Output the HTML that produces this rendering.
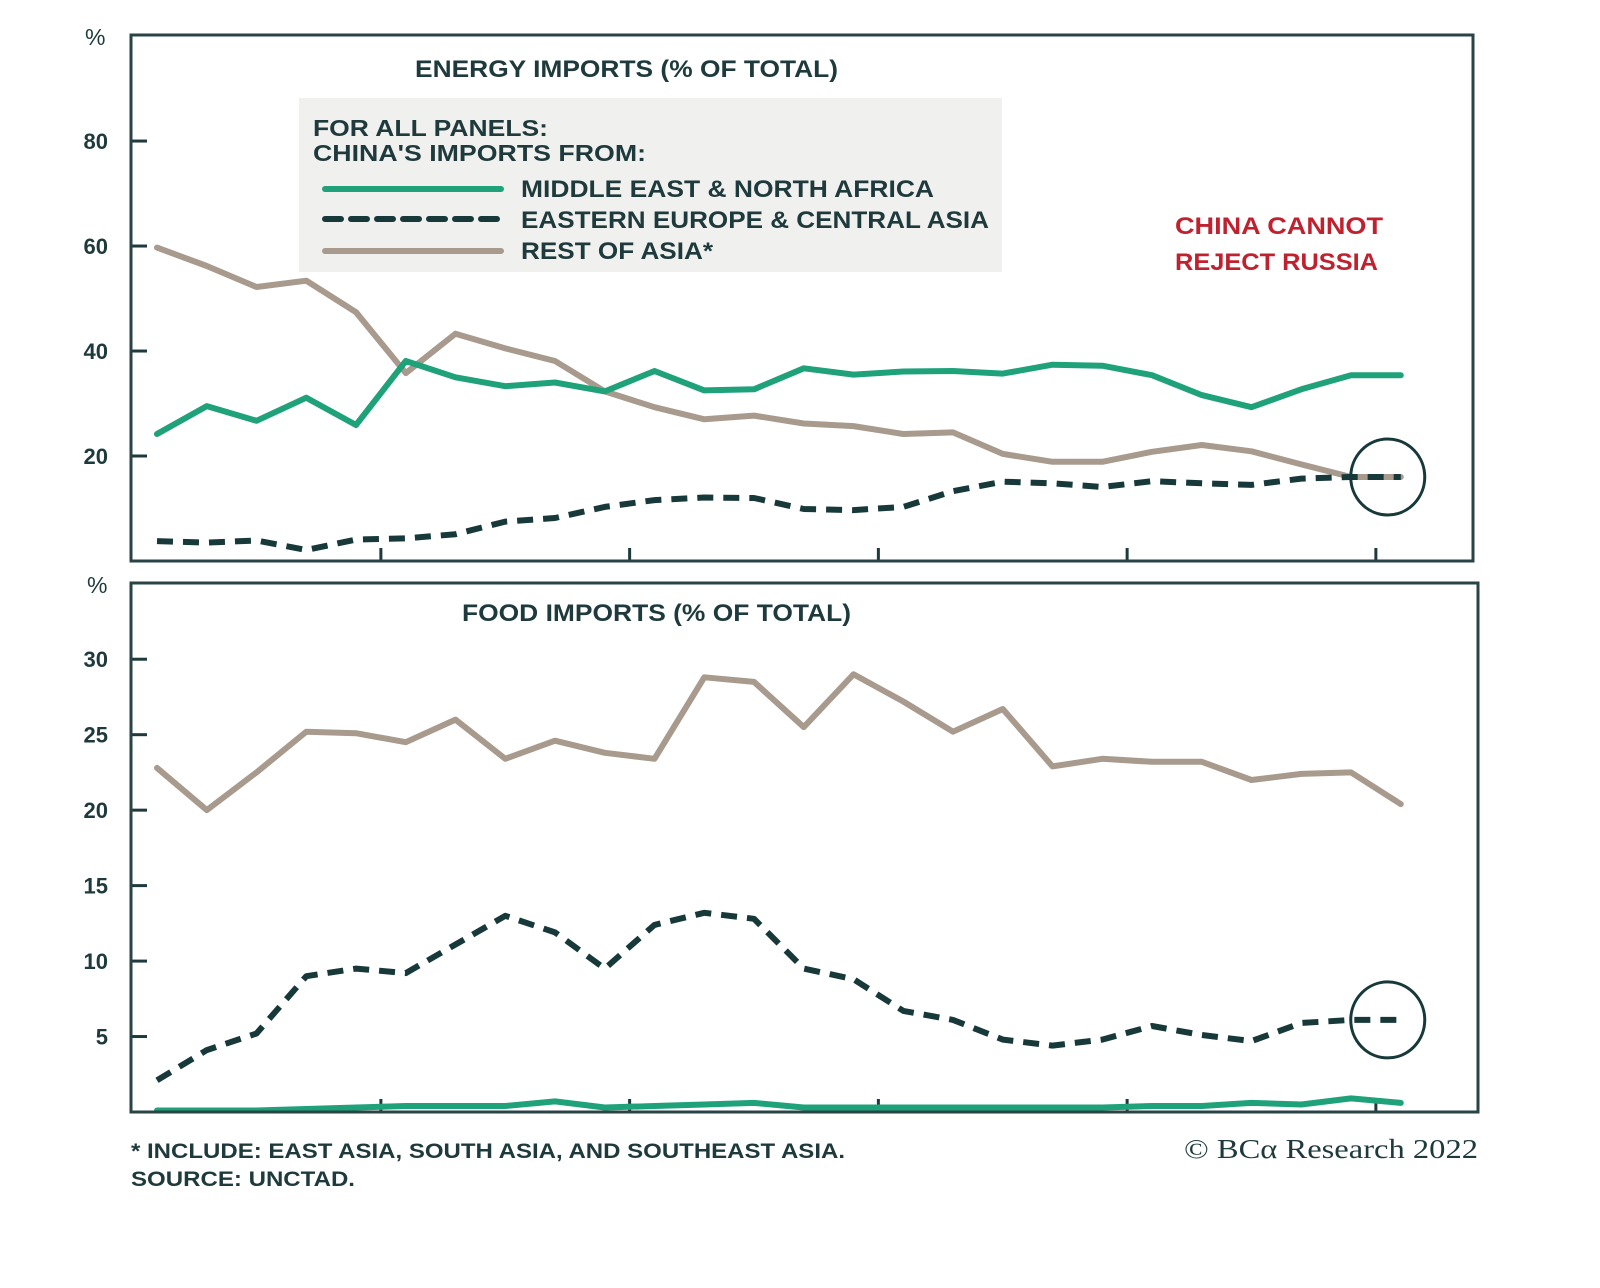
<!DOCTYPE html>
<html><head><meta charset="utf-8"><style>
html,body{margin:0;padding:0;background:#fff;}
svg{display:block;}
text{font-family:"Liberation Sans",sans-serif;}
</style></head><body>
<svg id="chart" width="1600" height="1288" viewBox="0 0 1600 1288">
<rect x="0" y="0" width="1600" height="1288" fill="#fff"/>
<g id="top"></g>
<g id="bot"></g>
<rect x="299" y="98" width="703" height="174" fill="#f0f0ee"/>
<g font-weight="bold">
<text x="313" y="136" font-size="23" fill="#1f3a3c" textLength="235" lengthAdjust="spacingAndGlyphs">FOR ALL PANELS:</text>
<text x="313" y="161" font-size="23" fill="#1f3a3c" textLength="333" lengthAdjust="spacingAndGlyphs">CHINA'S IMPORTS FROM:</text>
<text x="521" y="197" font-size="24" fill="#1f3a3c" textLength="413" lengthAdjust="spacingAndGlyphs">MIDDLE EAST &amp; NORTH AFRICA</text>
<text x="521" y="228" font-size="24" fill="#1f3a3c" textLength="468" lengthAdjust="spacingAndGlyphs">EASTERN EUROPE &amp; CENTRAL ASIA</text>
<text x="521" y="259" font-size="24" fill="#1f3a3c" textLength="192" lengthAdjust="spacingAndGlyphs">REST OF ASIA*</text>
<text x="415" y="77" font-size="24" fill="#1f3a3c" textLength="423" lengthAdjust="spacingAndGlyphs">ENERGY IMPORTS (% OF TOTAL)</text>
<text x="1175" y="234" font-size="24" fill="#c0212e" textLength="208" lengthAdjust="spacingAndGlyphs">CHINA CANNOT</text>
<text x="1175" y="270" font-size="24" fill="#c0212e" textLength="203" lengthAdjust="spacingAndGlyphs">REJECT RUSSIA</text>
<text x="462" y="621" font-size="24" fill="#1f3a3c" textLength="389" lengthAdjust="spacingAndGlyphs">FOOD IMPORTS (% OF TOTAL)</text>
<text x="131" y="1158" font-size="21" fill="#1f3a3c" textLength="714" lengthAdjust="spacingAndGlyphs">* INCLUDE: EAST ASIA, SOUTH ASIA, AND SOUTHEAST ASIA.</text>
<text x="131" y="1186" font-size="21" fill="#1f3a3c" textLength="224" lengthAdjust="spacingAndGlyphs">SOURCE: UNCTAD.</text>
</g>
<line x1="325" y1="189" x2="501" y2="189" stroke="#1fa27a" stroke-width="6" stroke-linecap="round"/>
<line x1="325" y1="219" x2="501" y2="219" stroke="#17393a" stroke-width="6" stroke-dasharray="16,10" stroke-linecap="round"/>
<line x1="325" y1="251" x2="501" y2="251" stroke="#a89b8d" stroke-width="6" stroke-linecap="round"/>
<text x="85" y="45" font-size="23" fill="#1f3a3c">%</text>
<text x="87" y="593" font-size="23" fill="#1f3a3c">%</text>
<text x="1184" y="1158" font-size="27" fill="#1f3a3c" style="font-family:'Liberation Serif',serif" textLength="294" lengthAdjust="spacingAndGlyphs">© BCα Research 2022</text>
</svg>
<script>
const energyTicks = [20, 40, 60, 80];
const foodTicks = [5, 10, 15, 20, 25, 30];
const energyMena = [24.2,29.5,26.7,31.1,25.9,38.1,35.0,33.3,34.0,32.3,36.2,32.5,32.7,36.7,35.5,36.1,36.2,35.7,37.4,37.2,35.4,31.6,29.3,32.7,35.4,35.4];
const energyEeca = [3.8,3.5,3.9,2.1,4.1,4.3,5.1,7.5,8.2,10.3,11.6,12.1,12.0,9.9,9.7,10.3,13.3,15.1,14.8,14.1,15.2,14.8,14.5,15.7,16.0,16.0];
const energyAsia = [59.7,56.2,52.2,53.4,47.4,35.8,43.3,40.5,38.1,32.3,29.3,27.0,27.7,26.2,25.7,24.2,24.5,20.4,18.9,18.9,20.8,22.1,20.9,18.4,16.0,16.0];
const foodMena = [0.1,0.1,0.1,0.2,0.3,0.4,0.4,0.4,0.7,0.3,0.4,0.5,0.6,0.3,0.3,0.3,0.3,0.3,0.3,0.3,0.4,0.4,0.6,0.5,0.9,0.6];
const foodEeca = [2.1,4.1,5.2,9.0,9.5,9.2,11.1,13.0,11.9,9.5,12.4,13.2,12.8,9.5,8.8,6.7,6.1,4.8,4.4,4.8,5.7,5.1,4.7,5.9,6.1,6.1];
const foodAsia = [22.8,20.0,22.5,25.2,25.1,24.5,26.0,23.4,24.6,23.8,23.4,28.8,28.5,25.5,29.0,27.2,25.2,26.7,22.9,23.4,23.2,23.2,22.0,22.4,22.5,20.4];
const xTickIdx = [4.5, 9.5, 14.5, 19.5, 24.5];

const NS = "http://www.w3.org/2000/svg";
function mk(tag, attrs, parent){const e=document.createElementNS(NS,tag);for(const k in attrs)e.setAttribute(k,attrs[k]);parent.appendChild(e);return e;}
const xOf = i => 157 + i*49.75;

function panel(g, top, bottom, right, vmax, ticks, series, circleIdx, circleVal, nameP){
  const y = v => bottom - v/vmax*(bottom - top);
  ticks.forEach(t=>{
    const l = mk('line',{x1:131,x2:147,y1:y(t),y2:y(t),stroke:'#1f3a3c','stroke-width':3},g);
    
    
    const tx = mk('text',{x:108,y:y(t)+8,'font-size':22,'font-weight':'bold','text-anchor':'end',fill:'#1f3a3c'},g);
    tx.textContent = t;
    
    
  });
  xTickIdx.forEach(i=>{
    const l = mk('line',{x1:xOf(i),x2:xOf(i),y1:bottom,y2:bottom-13,stroke:'#1f3a3c','stroke-width':3},g);
    
    
  });
  series.forEach(s=>{
    const d = s.vals.map((v,i)=>(i?'L':'M')+xOf(i).toFixed(1)+','+y(v).toFixed(1)).join(' ');
    const p = mk('path',{d:d,fill:'none',stroke:s.color,'stroke-width':6,'stroke-linejoin':'round','stroke-linecap':s.dash?'butt':'round'},g);
    if(s.dash) p.setAttribute('stroke-dasharray','16,10');
    
    
  });
  const c = mk('ellipse',{cx:xOf(circleIdx)-13,cy:y(circleVal),rx:37,ry:38,fill:'none',stroke:'#17393a','stroke-width':3},g);
  
  
  const f = mk('rect',{x:131,y:top,width:right-131,height:bottom-top,fill:'none',stroke:'#2a4345','stroke-width':3},g);
  
  
}
panel(document.getElementById('top'), 35, 561, 1473, 100.2, energyTicks, [
  {name:'asia', vals:energyAsia, color:'#a89b8d'},
  {name:'mena', vals:energyMena, color:'#1fa27a'},
  {name:'eeca', vals:energyEeca, color:'#17393a', dash:true}
], 25, energyEeca[25], 'energy');
panel(document.getElementById('bot'), 583, 1112, 1478, 35.05, foodTicks, [
  {name:'asia', vals:foodAsia, color:'#a89b8d'},
  {name:'mena', vals:foodMena, color:'#1fa27a'},
  {name:'eeca', vals:foodEeca, color:'#17393a', dash:true}
], 25, foodEeca[25], 'food');
</script>
</body></html>
